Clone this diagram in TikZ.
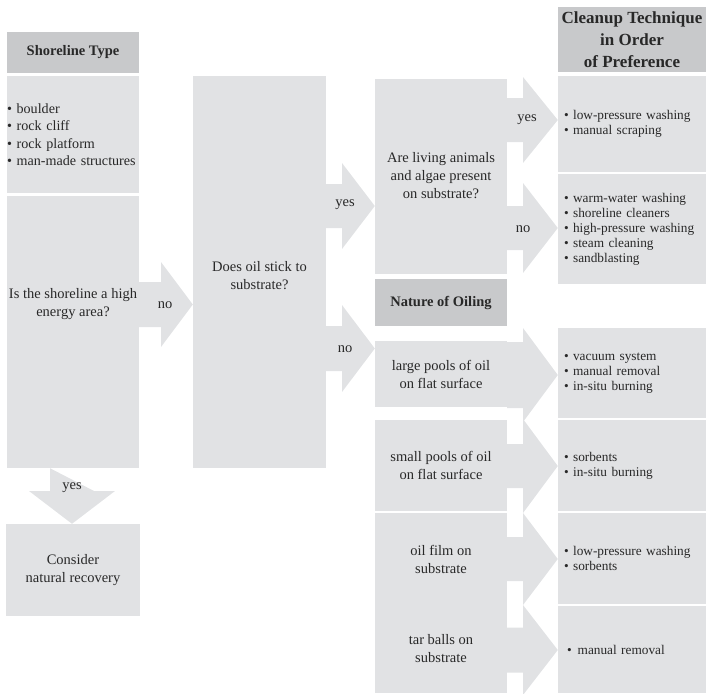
\documentclass[tikz,border=0pt]{standalone}
\usepackage{fontspec}
\setmainfont{Liberation Serif}

\definecolor{vakgrijs}{RGB}{225,226,228}
\definecolor{kopgrijs}{RGB}{200,201,203}
\definecolor{inkt}{RGB}{40,40,40}

% blokpijl: bron, doel, y-midden, halve schacht, halve kop, x begin kop
\newcommand{\blokpijl}[6]{%
  \fill[pijlvlak] (#1.east |- 0,{#3-#4}) -- (#6,{#3-#4}) -- (#6,{#3-#5})
    -- (#2.west |- 0,#3) -- (#6,{#3+#5}) -- (#6,{#3+#4})
    -- (#1.east |- 0,{#3+#4}) -- cycle;}

\begin{document}
\begin{tikzpicture}[x=1pt,y=-1pt]

% --- Stijldefinities ---
\tikzset{
    vak/.style={
        fill=vakgrijs,
        inner sep=0pt,
        text=inkt,
        align=center,
        font=\fontsize{14.5}{18}\selectfont
    },
    kop/.style={
        vak,
        fill=kopgrijs,
        font=\fontsize{14.5}{18}\selectfont\bfseries
    },
    lijst/.style={
        vak,
        align=left,
        font=\fontsize{13.3}{15}\selectfont
    },
    woord/.style={
        text=inkt,
        inner sep=0pt,
        font=\fontsize{14.5}{18}\selectfont
    },
    pijlvlak/.style={fill=vakgrijs}
}

\useasboundingbox (0,0) rectangle (706,693);

% --- Kolom 1: oevertype ---
\node[kop, minimum width=132pt, minimum height=41pt] (kop1) at (73,52.5) {Shoreline Type};
\node[lijst, font=\fontsize{14.1}{17.4}\selectfont, text width=132pt, minimum height=117pt] (lijst1) at (73,134.5)
    {\textbullet\ boulder\\\textbullet\ rock cliff\\\textbullet\ rock platform\\\mbox{\textbullet\ man-made structures}};
\node[vak, minimum width=132pt, minimum height=272pt] (vraag1) at (73,332) {};
\node[woord, align=center] (vraag1tekst) at (73,304) {Is the shoreline a high\\energy area?};
\node[vak, minimum width=134pt, minimum height=92pt] (besluit) at (73,570) {Consider\\natural recovery};

% --- Kolom 2 ---
\node[vak, minimum width=133pt, minimum height=392pt] (vraag2) at (259.5,272) {};
\node[woord, align=center] (vraag2tekst) at (259.5,276) {Does oil stick to\\substrate?};

% --- Kolom 3 ---
\node[vak, minimum width=132pt, minimum height=195pt] (vraag3) at (441,176) {Are living animals\\and algae present\\on substrate?};
\node[kop, minimum width=132pt, minimum height=47pt] (kop2) at (441,302.5) {Nature of Oiling};
\node[vak, minimum width=132pt, minimum height=66pt] (olie1) at (441,374) {large pools of oil\\on flat surface};
\node[vak, minimum width=132pt, minimum height=91pt] (olie2) at (441,465.5) {small pools of oil\\on flat surface};
\node[vak, minimum width=132pt, minimum height=92pt] (olie3) at (441,559) {oil film on\\substrate};
\node[vak, minimum width=132pt, minimum height=88pt] (olie4) at (441,649) {tar balls on\\substrate};

% --- Kolom 4: aanpak ---
\node[kop, minimum width=148pt, minimum height=65pt, font=\fontsize{17}{22}\selectfont\bfseries] (kop3) at (632,39.5)
    {Cleanup Technique\\in Order\\of Preference};
\node[lijst, text width=136pt, inner xsep=6pt, minimum height=96pt] (aanpak1) at (632,124)
    {\textbullet\ low-pressure washing\\\textbullet\ manual scraping};
\node[lijst, text width=136pt, inner xsep=6pt, minimum height=110pt] (aanpak2) at (632,229)
    {\textbullet\ warm-water washing\\\textbullet\ shoreline cleaners\\\textbullet\ high-pressure washing\\\textbullet\ steam cleaning\\\textbullet\ sandblasting};
\node[lijst, text width=136pt, inner xsep=6pt, minimum height=90pt] (aanpak3) at (632,373)
    {\textbullet\ vacuum system\\\textbullet\ manual removal\\\textbullet\ in-situ burning};
\node[lijst, text width=136pt, inner xsep=6pt, minimum height=91pt] (aanpak4) at (632,465.5)
    {\textbullet\ sorbents\\\textbullet\ in-situ burning};
\node[lijst, text width=136pt, inner xsep=6pt, minimum height=91pt] (aanpak5) at (632,558.5)
    {\textbullet\ low-pressure washing\\\textbullet\ sorbents};
\node[lijst, text width=136pt, inner xsep=6pt, minimum height=87pt] (aanpak6) at (632,649.5)
    {\hspace*{3pt}\textbullet\hspace{6pt}manual removal};

% --- Pijlen ---
\blokpijl{vraag1}{vraag2}{304.5}{22.5}{42.5}{161}
\blokpijl{vraag2}{vraag3}{206}{22}{43}{342}
\blokpijl{vraag2}{olie1}{348.5}{22.5}{43.5}{342}
\blokpijl{vraag3}{aanpak1}{120}{22}{43}{523}
\blokpijl{vraag3}{aanpak2}{228}{22}{45}{523}
\blokpijl{olie1}{aanpak3}{375}{33}{47}{523}
\blokpijl{olie2}{aanpak4}{466}{22}{47}{523}
\blokpijl{olie3}{aanpak5}{559}{22}{46}{523}
\blokpijl{olie4}{aanpak6}{650}{22.5}{45}{523}
\fill[pijlvlak] (vraag1.south -| 50,0) -- (94,491) -- (115,491) -- (besluit.north -| 72,0)
    -- (29,491) -- (50,491) -- cycle;

% --- Pijllabels ---
\node[woord] (nee1) at (165,305) {no};
\node[woord] (ja1) at (72,488) {yes};
\node[woord] (ja2) at (345,205) {yes};
\node[woord] (nee2) at (345,349) {no};
\node[woord] (ja3) at (527,120) {yes};
\node[woord] (nee3) at (523,229) {no};
\end{tikzpicture}
\end{document}
